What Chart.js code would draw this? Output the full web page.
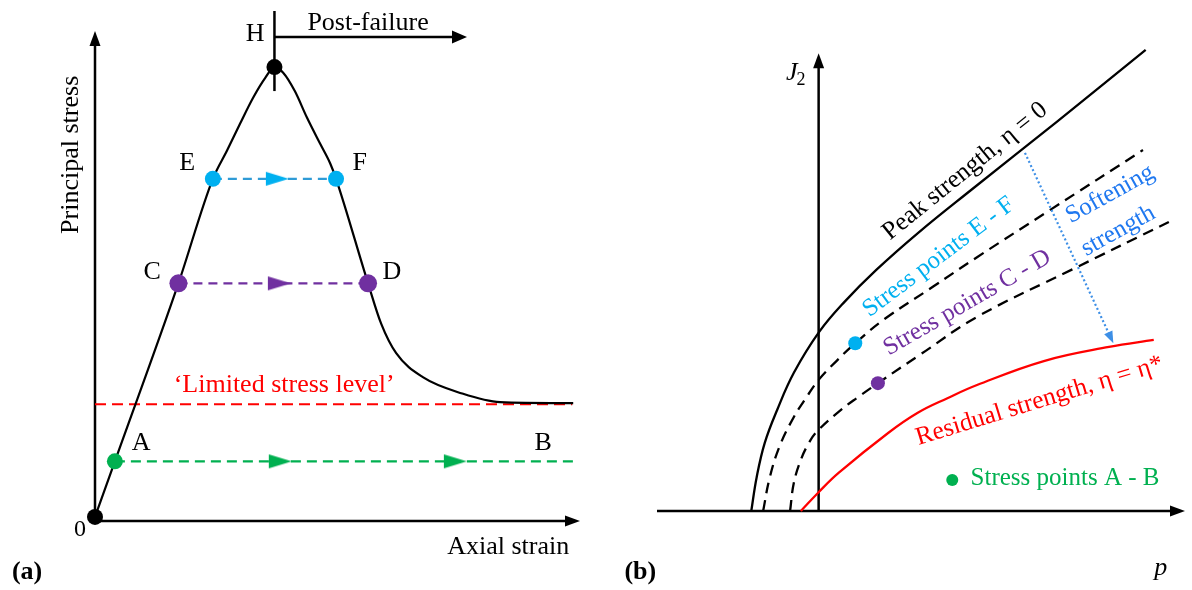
<!DOCTYPE html>
<html>
<head>
<meta charset="utf-8">
<script src="https://cdn.jsdelivr.net/npm/chart.js@4.4.1/dist/chart.umd.min.js"></script>
<style>
  body { margin: 0; background: #fff; }
  #wrap { position: relative; width: 1192px; height: 590px; }
  canvas { position: absolute; top: 0; }
  #chartA { left: 0; }
  #chartB { left: 600px; }
</style>
</head>
<body>
<div id="wrap">
  <canvas id="chartA" width="600" height="590"></canvas>
  <canvas id="chartB" width="592" height="590"></canvas>
</div>
<script>
// ---- (a) principal stress vs axial strain ----
const curveStrain = [0, 4.1, 17.2, 24.3, 27.2, 29.9, 32.6, 35.1, 37.0, 38.8, 41.2, 43.7, 46.4, 48.5, 49.7, 56.3, 59.0, 62.1, 67.6, 75.7, 83.5, 98.6];
const curveStress = [0.8, 11.7, 46.6, 67.1, 72.6, 77.9, 83.0, 86.9, 89.0, 87.9, 84.3, 79.1, 74.0, 70.1, 67.1, 46.6, 38.7, 32.9, 28.2, 25.0, 23.3, 23.1];

// stress points 0, A, C, D, E, F, H
const markerStrain = [0, 4.1, 17.2, 56.3, 24.3, 49.7, 37.0];
const markerStress = [0.8, 11.7, 46.6, 46.6, 67.1, 67.1, 89.0];

// horizontal stress paths
const strainAB = [4.1, 99.6];
const stressAB = 11.7;
const strainCD = [17.2, 56.3];
const stressCD = 46.6;
const strainEF = [24.3, 49.7];
const stressEF = 67.1;
const limitedStrain = [0, 98.4];
const limitedStress = 22.9;

// where the direction heads sit on each path
const headsAB = [38.1, 74.2];
const headsCD = [37.9];
const headsEF = [37.5];

// ---- (b) yield surfaces in p - J2 plane ----
const peakP = [-12.5, -11.5, -10.0, -7.7, -4.6, 0.1, 4.8, 10.7, 18.7, 28.3, 44.2, 60.7];
const peakJ = [0, 7.2, 14.5, 21.5, 29.4, 38.1, 44.5, 51.3, 59.4, 68.3, 82.8, 98.1];
const softEFP = [-10.3, -9.1, -7.3, -4.7, -2.2, 0, 3.3, 6.8, 12.3, 21.2, 29.4, 42.9, 60.2];
const softEFJ = [0, 7.0, 13.6, 19.8, 24.3, 27.9, 31.9, 35.7, 40.9, 47.7, 54.0, 64.0, 76.8];
const softCDP = [-5.3, -4.6, -3.3, -1.8, -0.4, 3.7, 7.4, 11.0, 19.0, 29.4, 46.9, 65.0];
const softCDJ = [0, 6.0, 10.9, 14.5, 16.8, 21.1, 24.3, 27.2, 33.4, 41.3, 51.3, 61.5];
const residualP = [-3.3, 0, 3.7, 12.9, 18.4, 23.9, 29.4, 41.8, 53.9, 62.2];
const residualJ = [0, 4.0, 8.1, 16.6, 20.9, 24.0, 26.8, 31.9, 34.9, 36.4];
// stress points E-F, C-D, A-B
const stressPointP = [6.8, 11.0, 24.8];
const stressPointJ = [35.7, 27.2, 6.6];
const softeningP = [38.3, 54.7];
const softeningJ = [76.2, 35.7];

const pts = (xs, ys) => xs.map((v, i) => ({ x: v, y: Array.isArray(ys) ? ys[i] : ys }));
const SERIF = '"Liberation Serif", "Times New Roman", serif';

// right pointing head used as point style on the paths
function headImage(color) {
  const c = document.createElement('canvas');
  c.width = 24; c.height = 16;
  const g = c.getContext('2d');
  g.fillStyle = color;
  g.beginPath();
  g.moveTo(1, 1); g.lineTo(24, 8); g.lineTo(1, 15);
  g.closePath(); g.fill();
  return c;
}

function drawArrow(ctx, x1, y1, x2, y2, a) {
  const ang = Math.atan2(y2 - y1, x2 - x1);
  const len = a.head ? a.head[0] : 0;
  ctx.strokeStyle = a.color;
  ctx.lineWidth = a.width;
  ctx.setLineDash(a.dash || []);
  ctx.beginPath();
  ctx.moveTo(x1, y1);
  ctx.lineTo(x2 - Math.cos(ang) * len * 0.7, y2 - Math.sin(ang) * len * 0.7);
  ctx.stroke();
  ctx.setLineDash([]);
  if (a.head) {
    const hw = a.head[1];
    const bx = x2 - Math.cos(ang) * len, by = y2 - Math.sin(ang) * len;
    ctx.fillStyle = a.color;
    ctx.beginPath();
    ctx.moveTo(x2, y2);
    ctx.lineTo(bx + Math.sin(ang) * hw, by - Math.cos(ang) * hw);
    ctx.lineTo(bx - Math.sin(ang) * hw, by + Math.cos(ang) * hw);
    ctx.closePath();
    ctx.fill();
  }
}

// axes, arrows and annotation text
const decor = {
  id: 'decor',
  beforeDatasetsDraw(chart, args, opts) {
    const { ctx, scales: { x, y } } = chart;
    ctx.save();
    (opts.arrows || []).forEach(a => {
      drawArrow(ctx, x.getPixelForValue(a.from[0]), y.getPixelForValue(a.from[1]),
        x.getPixelForValue(a.to[0]), y.getPixelForValue(a.to[1]), a);
    });
    ctx.restore();
  },
  afterDatasetsDraw(chart, args, opts) {
    const { ctx, scales: { x, y } } = chart;
    ctx.save();
    (opts.topArrows || []).forEach(a => {
      drawArrow(ctx, x.getPixelForValue(a.from[0]), y.getPixelForValue(a.from[1]),
        x.getPixelForValue(a.to[0]), y.getPixelForValue(a.to[1]), a);
    });
    (opts.labels || []).forEach(t => {
      const size = t.size || 26;
      ctx.save();
      ctx.translate(x.getPixelForValue(t.at[0]), y.getPixelForValue(t.at[1]));
      ctx.rotate((t.angle || 0) * Math.PI / 180);
      ctx.font = `${t.style || 'normal'} ${t.weight || 'normal'} ${size}px ${SERIF}`;
      ctx.fillStyle = t.color || '#000';
      ctx.textAlign = t.align || 'center';
      ctx.textBaseline = 'middle';
      ctx.fillText(t.text, 0, 0);
      if (t.sub) {
        const w = ctx.measureText(t.text).width;
        ctx.font = `normal ${Math.round(size * 0.68)}px ${SERIF}`;
        ctx.textAlign = 'left';
        ctx.fillText(t.sub, w / 2 - 1, size * 0.3);
      }
      ctx.restore();
    });
    ctx.restore();
  }
};

function baseOptions(xr, yr, padding, decorOpts) {
  return {
    responsive: false,
    animation: false,
    events: [],
    layout: { padding },
    scales: {
      x: { type: 'linear', display: false, min: xr[0], max: xr[1] },
      y: { type: 'linear', display: false, min: yr[0], max: yr[1] }
    },
    plugins: { legend: { display: false }, tooltip: { enabled: false }, decor: decorOpts }
  };
}

// monotone curve for (a), free spline for the yield surfaces in (b)
const lineStyle = (color, width, dash) => ({
  showLine: true, borderColor: color, borderWidth: width, borderDash: dash || [],
  pointRadius: 0, cubicInterpolationMode: 'monotone', clip: false, order: 5
});
const surfaceStyle = (color, dash) => ({
  showLine: true, borderColor: color, borderWidth: 2.3, borderDash: dash || [],
  pointRadius: 0, tension: 0.4, clip: false, order: 5
});

// ---- chart (a) ----
new Chart(document.getElementById('chartA'), {
  type: 'scatter',
  plugins: [decor],
  data: {
    datasets: [
      { data: pts(markerStrain, markerStress), pointRadius: [8, 8, 9, 9, 8, 8, 8],
        pointBackgroundColor: ['#000', '#00b050', '#7030a0', '#7030a0', '#00b0f0', '#00b0f0', '#000'],
        pointBorderWidth: 0, clip: false, order: 0 },
      { data: pts(headsAB, stressAB), pointStyle: headImage('#00b050'), pointRadius: 10, clip: false, order: 1 },
      { data: pts(headsCD, stressCD), pointStyle: headImage('#7030a0'), pointRadius: 10, clip: false, order: 1 },
      { data: pts(headsEF, stressEF), pointStyle: headImage('#00b0f0'), pointRadius: 10, clip: false, order: 1 },
      { data: pts(curveStrain, curveStress), ...lineStyle('#000', 2.2) },
      { data: pts(strainAB, stressAB), ...lineStyle('#00b050', 2.2, [10, 6]) },
      { data: pts(strainCD, stressCD), ...lineStyle('#7030a0', 2.2, [9, 6]) },
      { data: pts(strainEF, stressEF), ...lineStyle('#2f9bd6', 2.2, [9, 6]) },
      { data: pts(limitedStrain, limitedStress), ...lineStyle('#ff0000', 2, [11, 6]) }
    ]
  },
  options: baseOptions([0, 100], [0, 100], { left: 95, right: 20, top: 10, bottom: 69 }, {
    arrows: [
      { from: [0, 0], to: [0, 96.1], color: '#000', width: 2.5, head: [15, 5.5] },
      { from: [0, 0], to: [100, 0], color: '#000', width: 2.5, head: [15, 5.5] },
      { from: [37.0, 100], to: [37.0, 84.3], color: '#000', width: 2.5 },
      { from: [37.0, 94.9], to: [76.7, 94.9], color: '#000', width: 2.5, head: [15, 6.5] }
    ],
    labels: [
      { text: 'Principal stress', at: [-4.9, 71.8], angle: -90 },
      { text: 'Axial strain', at: [85.2, -5.1] },
      { text: '0', at: [-3.1, -1.8], size: 24 },
      { text: '(a)', at: [-14.0, -10.0], weight: 'bold' },
      { text: '\u2018Limited stress level\u2019', at: [39.0, 26.6], color: '#ff0000' },
      { text: 'Post-failure', at: [56.3, 97.7] },
      { text: 'A', at: [9.5, 15.3] },
      { text: 'B', at: [92.4, 15.3] },
      { text: 'C', at: [11.8, 48.7] },
      { text: 'D', at: [61.2, 48.7] },
      { text: 'E', at: [19.0, 70.1] },
      { text: 'F', at: [54.6, 70.1] },
      { text: 'H', at: [33.0, 95.5] }
    ]
  })
});

// ---- chart (b) ----
new Chart(document.getElementById('chartB'), {
  type: 'scatter',
  plugins: [decor],
  data: {
    datasets: [
      { data: pts(stressPointP, stressPointJ), pointRadius: [7, 7, 6],
        pointBackgroundColor: ['#00b0f0', '#7030a0', '#00b050'], pointBorderWidth: 0, clip: false, order: 0 },
      { data: pts(peakP, peakJ), ...surfaceStyle('#000') },
      { data: pts(softEFP, softEFJ), ...surfaceStyle('#000', [11, 7]) },
      { data: pts(softCDP, softCDJ), ...surfaceStyle('#000', [11, 7]) },
      { data: pts(residualP, residualJ), ...surfaceStyle('#ff0000') }
    ]
  },
  options: baseOptions([-30, 68], [0, 100], { left: 57, right: 2.5, top: 41, bottom: 79 }, {
    arrows: [
      { from: [0, 0], to: [0, 97.4], color: '#000', width: 2.5, head: [15, 5.5] },
      { from: [-30, 0], to: [68, 0], color: '#000', width: 2.5, head: [15, 5.5] }
    ],
    topArrows: [
      { from: [softeningP[0], softeningJ[0]], to: [softeningP[1], softeningJ[1]],
        color: '#3d8fe6', width: 2.2, dash: [2, 2.5], head: [12, 4.5] }
    ],
    labels: [
      { text: 'J', sub: '2', at: [-5.0, 93.2], style: 'italic' },
      { text: 'p', at: [63.5, -12.1], style: 'italic' },
      { text: '(b)', at: [-33.1, -13.0], weight: 'bold' },
      { text: 'Peak strength, \u03b7 = 0', at: [27.2, 72.3], angle: -39, size: 25.5 },
      { text: 'Stress points E - F', at: [22.3, 54.0], angle: -37, size: 25, color: '#00b0f0' },
      { text: 'Stress points C - D', at: [27.6, 44.3], angle: -30, size: 25, color: '#7030a0' },
      { text: 'Residual strength, \u03b7 = \u03b7*', at: [41.0, 23.4], angle: -17, size: 25.5, color: '#ff0000' },
      { text: 'Softening', at: [54.1, 67.4], angle: -29, size: 25, color: '#1f78f0' },
      { text: 'strength', at: [55.6, 59.6], angle: -29, size: 25, color: '#1f78f0' },
      { text: 'Stress points A - B', at: [28.2, 7.0], align: 'left', size: 25, color: '#00b050' }
    ]
  })
});
</script>
</body>
</html>
